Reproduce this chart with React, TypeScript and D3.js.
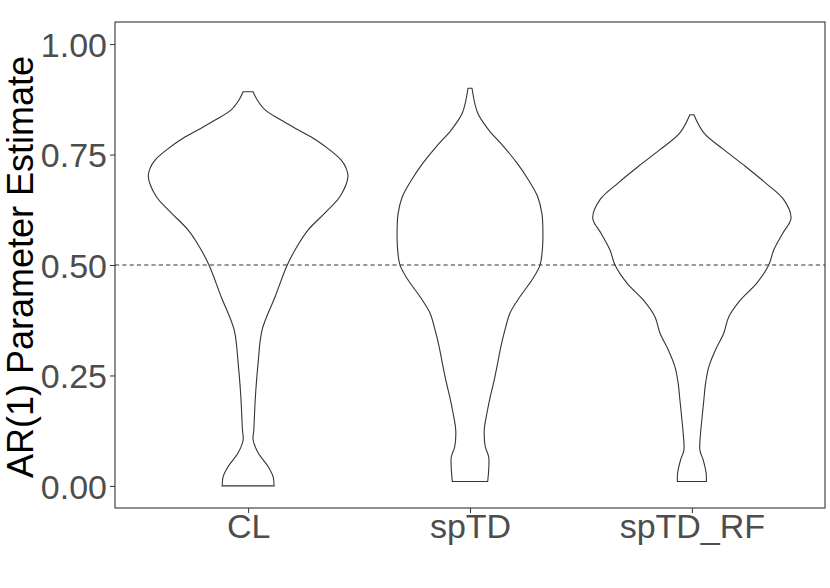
import React, { useEffect, useRef } from 'react';
import * as d3 from 'd3';

// categories on x
const methods = ['CL', 'spTD', 'spTD_RF'];
const yTicks = [0, 0.25, 0.5, 0.75, 1];
const refLine = 0.5;

// violin outlines: estimate value and relative half-width (1 = full violin width)
const clValue = [0.0, 0.021, 0.044, 0.075, 0.104, 0.127, 0.202, 0.278, 0.353, 0.428, 0.499, 0.542, 0.579, 0.618, 0.655, 0.7, 0.72, 0.738, 0.76, 0.783, 0.806, 0.828, 0.851, 0.874, 0.892];
const clDensity = [0.26, 0.25, 0.2, 0.1, 0.05, 0.057, 0.073, 0.1, 0.14, 0.27, 0.39, 0.49, 0.6, 0.77, 0.92, 1.0, 0.98, 0.93, 0.82, 0.68, 0.5, 0.33, 0.17, 0.09, 0.05];

const spTDValue = [0.01, 0.036, 0.066, 0.089, 0.127, 0.165, 0.202, 0.24, 0.278, 0.316, 0.353, 0.391, 0.428, 0.466, 0.499, 0.542, 0.579, 0.617, 0.655, 0.692, 0.731, 0.768, 0.806, 0.844, 0.9];
const spTDDensity = [0.177, 0.187, 0.187, 0.153, 0.143, 0.17, 0.203, 0.243, 0.277, 0.31, 0.35, 0.4, 0.5, 0.62, 0.7, 0.727, 0.73, 0.72, 0.677, 0.587, 0.47, 0.337, 0.187, 0.077, 0.02];

const spTDRFValue = [0.01, 0.029, 0.059, 0.081, 0.119, 0.157, 0.195, 0.232, 0.27, 0.308, 0.346, 0.383, 0.421, 0.459, 0.5, 0.534, 0.572, 0.606, 0.648, 0.686, 0.723, 0.761, 0.799, 0.84];
const spTDRFDensity = [0.145, 0.143, 0.113, 0.08, 0.087, 0.103, 0.12, 0.137, 0.17, 0.237, 0.32, 0.37, 0.487, 0.65, 0.77, 0.82, 0.91, 0.993, 0.92, 0.737, 0.537, 0.32, 0.12, 0.02];

const violins = [
  { name: 'CL', value: clValue, density: clDensity },
  { name: 'spTD', value: spTDValue, density: spTDDensity },
  { name: 'spTD_RF', value: spTDRFValue, density: spTDRFDensity },
];

const W = 830;
const H = 588;
const margin = { top: 22, right: 5, bottom: 80, left: 115 };
const font = 'Liberation Sans, Arial, Helvetica, sans-serif';

const App = () => {
  const ref = useRef(null);

  useEffect(() => {
    const svg = d3.select(ref.current);
    svg.selectAll('*').remove();

    // discrete x with ggplot-like 0.6 unit expansion on each side
    const x = d3
      .scalePoint()
      .domain(methods)
      .range([margin.left, W - margin.right])
      .padding(0.6);
    const step = x.step();
    const half = step * 0.45;

    const y = d3
      .scaleLinear()
      .domain([-0.05, 1.05])
      .range([H - margin.bottom, margin.top]);

    const textCol = '#4D4D4D';

    // y axis
    const yAxis = svg
      .append('g')
      .attr('transform', `translate(${margin.left},0)`)
      .call(
        d3
          .axisLeft(y)
          .tickValues(yTicks)
          .tickFormat(d3.format('.2f'))
          .tickSize(5)
          .tickPadding(3)
      );
    yAxis.select('.domain').remove();
    yAxis.selectAll('line').attr('stroke', '#333333');
    yAxis
      .selectAll('text')
      .attr('fill', textCol)
      .attr('font-size', 34)
      .attr('font-family', font)
      .attr('dy', '0.36em');

    // x axis
    const xAxis = svg
      .append('g')
      .attr('transform', `translate(0,${H - margin.bottom})`)
      .call(d3.axisBottom(x).tickSize(5).tickPadding(2));
    xAxis.select('.domain').remove();
    xAxis.selectAll('line').attr('stroke', '#333333');
    xAxis
      .selectAll('text')
      .attr('fill', textCol)
      .attr('font-size', 34)
      .attr('font-family', font)
      .attr('y', 30)
      .attr('dy', 0);

    // dashed reference
    svg
      .append('line')
      .attr('x1', margin.left)
      .attr('x2', W - margin.right)
      .attr('y1', y(refLine))
      .attr('y2', y(refLine))
      .attr('stroke', '#333333')
      .attr('stroke-width', 1.2)
      .attr('stroke-dasharray', '4.2,3.1');

    // violins
    violins.forEach((v) => {
      const pts = v.value.map((val, i) => ({ val, d: v.density[i] }));
      const cx = x(v.name);
      const area = d3
        .area()
        .y((p) => y(p.val))
        .x0((p) => cx - p.d * half)
        .x1((p) => cx + p.d * half)
        .curve(d3.curveCatmullRom);
      svg
        .append('path')
        .datum(pts)
        .attr('d', area)
        .attr('fill', 'none')
        .attr('stroke', '#333333')
        .attr('stroke-width', 1.1);
    });

    // panel border
    svg
      .append('rect')
      .attr('x', margin.left)
      .attr('y', margin.top)
      .attr('width', W - margin.right - margin.left)
      .attr('height', H - margin.bottom - margin.top)
      .attr('fill', 'none')
      .attr('stroke', '#333333')
      .attr('stroke-width', 1.1);

    // y title
    svg
      .append('text')
      .attr('transform', `translate(33,${(margin.top + H - margin.bottom) / 2 + 2}) rotate(-90)`)
      .attr('text-anchor', 'middle')
      .attr('fill', 'black')
      .attr('font-size', 36)
      .attr('font-family', font)
      .text('AR(1) Parameter Estimate');
  }, []);

  return (
    <svg ref={ref} width={W} height={H} style={{ position: 'absolute', left: 0, top: 0, background: 'white' }} />
  );
};

export default App;
